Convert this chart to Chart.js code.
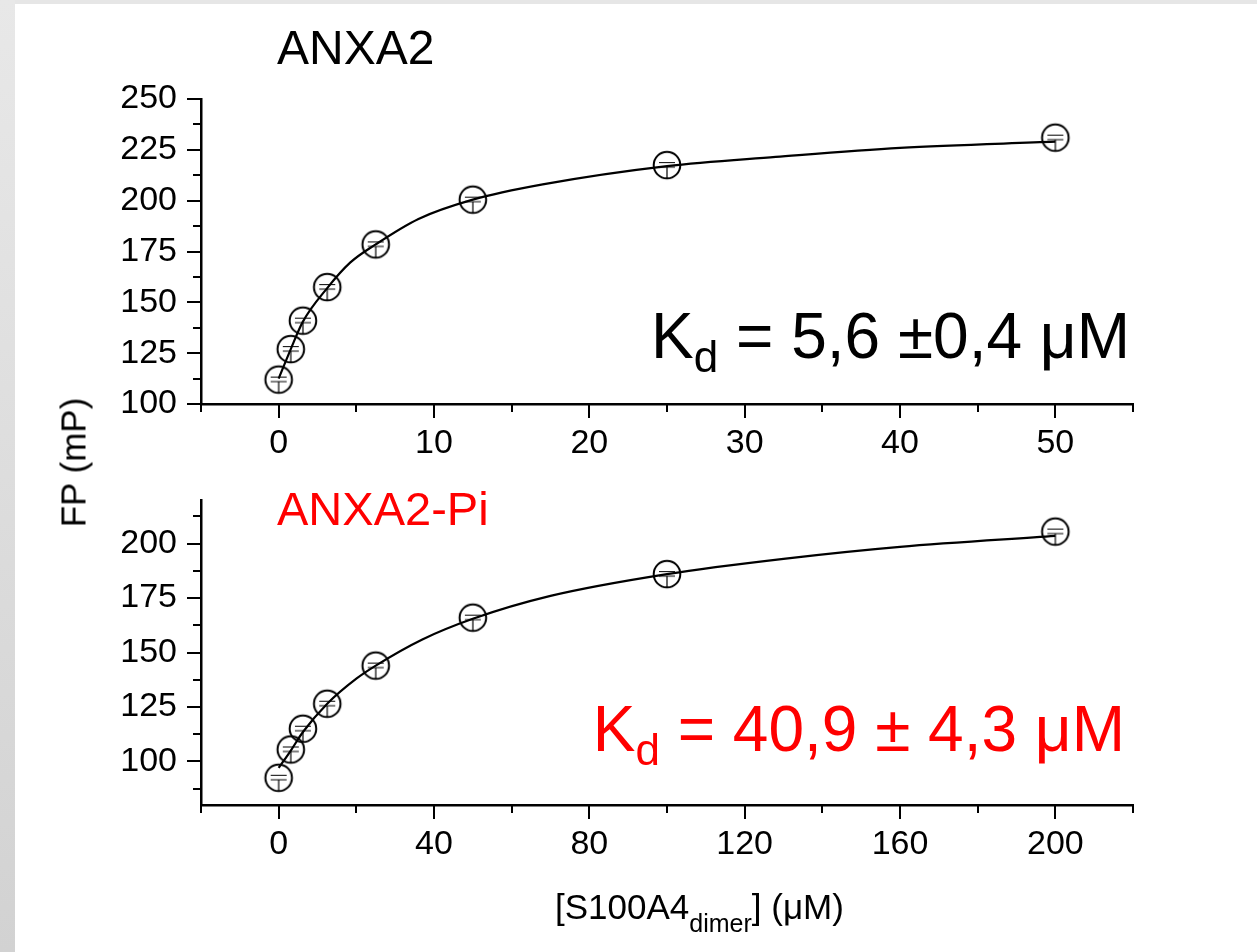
<!DOCTYPE html>
<html>
<head>
<meta charset="utf-8">
<script src="https://cdn.jsdelivr.net/npm/chart.js@4.4.1/dist/chart.umd.min.js"></script>
<style>
  body { margin: 0; width: 1257px; height: 952px; overflow: hidden; background: linear-gradient(to bottom, #e8e8e8, #d2d2d2); font-family: 'Liberation Sans', Arial, sans-serif; }
  #panel { position: absolute; left: 15px; top: 0; width: 1242px; height: 952px; background: #fff; border-top: 4px solid #e6e6e6; box-sizing: border-box; }
  canvas { position: absolute; left: 0; }
  .t { position: absolute; line-height: 1; white-space: nowrap; color: #000; }
  .red { color: #ff0000; }
</style>
</head>
<body>
<div id="panel"></div>
<canvas id="topChart" width="1257" height="470" style="top:0"></canvas>
<canvas id="botChart" width="1257" height="502" style="top:450px"></canvas>

<div class="t" style="left:277px; top:24px; font-size:48px;">ANXA2</div>
<div class="t" style="right:127px; top:304px; font-size:64px;">K<span style="font-size:44px; vertical-align:-14px;">d</span> = 5,6 ±0,4 μM</div>
<div class="t red" style="left:277px; top:485px; font-size:47px;">ANXA2-Pi</div>
<div class="t red" style="right:132px; top:697px; font-size:64px;">K<span style="font-size:44px; vertical-align:-14px;">d</span> = 40,9 ± 4,3 μM</div>
<div class="t" style="left:555px; top:889px; font-size:35px;">[S100A4<span style="font-size:25px; vertical-align:-13px;">dimer</span>] (μM)</div>
<div class="t" style="left:-27px; top:445px; width:200px; height:35px; font-size:35px; text-align:center; transform:rotate(-90deg);">FP (mP)</div>

<script>
// ANXA2 titration
const topConc = [0, 0.78, 1.56, 3.125, 6.25, 12.5, 25, 50];
const topFP = [112, 127, 141, 157.5, 178.5, 200.5, 217.5, 231];
const topFitX = [0, 0.78, 1.56, 3.125, 4.6, 6.25, 9, 12.5, 17, 25, 32, 40, 50];
const topFitY = [112.5, 127, 140.5, 157, 169.5, 178.5, 191, 200.5, 208, 217, 221.5, 226, 229];

// ANXA2-Pi titration
const botConc = [0, 3.125, 6.25, 12.5, 25, 50, 100, 200];
const botFP = [92.5, 105.5, 115, 126.5, 144, 166, 186, 205.5];
const botFitX = [0, 3.125, 6.25, 12.5, 20, 25, 37, 50, 70, 100, 130, 160, 200];
const botFitY = [97, 105, 113.5, 126.5, 138, 144, 156, 165.5, 176, 186, 193, 198.5, 203.5];

// tick marks
const topXMajor = [0, 10, 20, 30, 40, 50];
const topXMinor = [-5, 5, 15, 25, 35, 45, 55];
const topYMajor = [100, 125, 150, 175, 200, 225, 250];
const topYMinor = [112.5, 137.5, 162.5, 187.5, 212.5, 237.5];
const botXMajor = [0, 40, 80, 120, 160, 200];
const botXMinor = [-20, 20, 60, 100, 140, 180, 220];
const botYMajor = [100, 125, 150, 175, 200];
const botYMinor = [87.5, 112.5, 137.5, 162.5, 187.5, 212.5];

const FONT = "'Liberation Sans', Arial, sans-serif";

function makeMarker() {
    const c = document.createElement('canvas');
    c.width = 32; c.height = 32;
    const g = c.getContext('2d');
    g.strokeStyle = '#000';
    g.lineWidth = 2;
    g.beginPath(); g.arc(16, 16, 13.3, 0, Math.PI * 2); g.stroke();
    g.lineWidth = 1.2;
    g.beginPath();
    g.moveTo(8, 13.5); g.lineTo(24, 13.5);
    g.moveTo(8, 18); g.lineTo(24, 18);
    g.moveTo(16, 18); g.lineTo(16, 29);
    g.stroke();
    return c;
}
const marker = makeMarker();

// outward tick marks, long for majors and short for minors
function tickPlugin(xMajor, xMinor, yMajor, yMinor) {
    return {
        id: 'axisTicks',
        afterDraw(chart) {
            const ctx = chart.ctx;
            const xs = chart.scales.x, ys = chart.scales.y;
            ctx.save();
            ctx.strokeStyle = '#000';
            ctx.lineWidth = 2;
            ctx.beginPath();
            const xt = (v, len) => { const p = Math.round(xs.getPixelForValue(v)); ctx.moveTo(p, xs.top); ctx.lineTo(p, xs.top + len); };
            const yt = (v, len) => { const p = Math.round(ys.getPixelForValue(v)); ctx.moveTo(ys.right, p); ctx.lineTo(ys.right - len, p); };
            xMajor.forEach(v => xt(v, 14));
            xMinor.forEach(v => xt(v, 8));
            yMajor.forEach(v => yt(v, 14));
            yMinor.forEach(v => yt(v, 8));
            ctx.stroke();
            ctx.restore();
        }
    };
}

function scales(xMin, xMax, xMajor, yMin, yMax, yMajor, xHeight) {
    const tickFont = { family: FONT, size: 34 };
    return {
        x: {
            type: 'linear', min: xMin, max: xMax,
            afterBuildTicks: s => { s.ticks = xMajor.map(v => ({ value: v })); },
            afterFit: s => { s.height = xHeight; },
            grid: { display: false, drawTicks: false },
            border: { display: true, color: '#000', width: 2.5 },
            ticks: { color: '#000', font: tickFont, padding: 19, maxRotation: 0, autoSkip: false }
        },
        y: {
            type: 'linear', min: yMin, max: yMax,
            afterBuildTicks: s => { s.ticks = yMajor.map(v => ({ value: v })); },
            afterFit: s => { s.width = 201; },
            grid: { display: false, drawTicks: false },
            border: { display: true, color: '#000', width: 2.5 },
            ticks: { color: '#000', font: tickFont, padding: 24, autoSkip: false }
        }
    };
}

function makeChart(id, conc, fp, fitX, fitY, sc, pad, ticks) {
    new Chart(document.getElementById(id), {
        type: 'scatter',
        data: {
            datasets: [{
                type: 'line',
                data: fitX.map((x, i) => ({ x: x, y: fitY[i] })),
                borderColor: '#000',
                borderWidth: 2.2,
                pointRadius: 0,
                fill: false,
                cubicInterpolationMode: 'monotone'
            }, {
                data: conc.map((x, i) => ({ x: x, y: fp[i] })),
                pointStyle: marker,
                pointRadius: 16,
                showLine: false
            }]
        },
        options: {
            responsive: false,
            animation: false,
            events: [],
            layout: { padding: pad },
            plugins: { legend: { display: false }, tooltip: { enabled: false } },
            scales: sc
        },
        plugins: [ticks]
    });
}

makeChart('topChart', topConc, topFP, topFitX, topFitY,
    scales(-5, 55, topXMajor, 100, 250, topYMajor, 66),
    { top: 99, right: 124, left: 0, bottom: 0 },
    tickPlugin(topXMajor, topXMinor, topYMajor, topYMinor));

// canvas starts at 450, so chart area top lands at 500
makeChart('botChart', botConc, botFP, botFitX, botFitY,
    scales(-20, 220, botXMajor, 80, 220, botYMajor, 147),
    { top: 50, right: 124, left: 0, bottom: 0 },
    tickPlugin(botXMajor, botXMinor, botYMajor, botYMinor));
</script>
</body>
</html>
